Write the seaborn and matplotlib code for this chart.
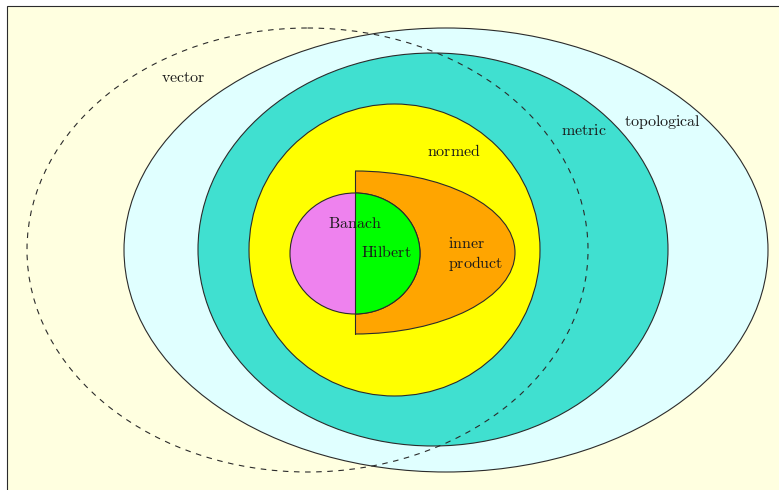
import numpy as np
import seaborn as sns
import matplotlib.pyplot as plt
from matplotlib.patches import Ellipse, Rectangle

# nested sets of spaces: name, center (x, y), half-width, half-height
space_names = ["topological", "metric", "normed", "inner product", "Banach", "Hilbert"]
space_cx = [446, 433, 394.5, 355, 355, 355]
space_cy = [250, 249.5, 250, 252.5, 253.5, 253.5]
space_rx = [322, 235, 145.5, 160, 65, 65]
space_ry = [222, 196.5, 146, 81.5, 60.5, 60.5]
space_colors = ["lightcyan", "turquoise", "yellow", "orange", "violet", "lime"]
half_right = [False, False, False, True, False, True]

# the dashed "vector" set
vector_center = (307.5, 250)
vector_size = (280.5, 222)

label_text = ["vector", "topological", "metric", "normed", "Banach", "Hilbert", "inner\nproduct"]
label_x = [183, 663, 584, 454, 355, 386, 448]
label_y = [77, 122, 130, 151, 223, 252, 254]
label_ha = ["center", "center", "center", "center", "center", "center", "left"]

sns.set_style("white")
plt.rcParams["mathtext.fontset"] = "cm"
plt.rcParams["font.family"] = ["DejaVu Serif"]

fig = plt.figure(figsize=(7.79, 4.90), dpi=100)
ax = fig.add_axes([0, 0, 1, 1])
ax.set_xlim(0, 779)
ax.set_ylim(490, 0)
ax.axis("off")

edge = "#2b2b2b"
lw = 0.8

frame = Rectangle((7, 6), 900, 600, facecolor="lightyellow", edgecolor=edge, lw=lw, zorder=0)
ax.add_patch(frame)

for i, name in enumerate(space_names):
    e = Ellipse((space_cx[i], space_cy[i]), 2 * space_rx[i], 2 * space_ry[i],
                facecolor=space_colors[i], edgecolor=edge, lw=lw, zorder=1 + i)
    ax.add_patch(e)
    if half_right[i]:
        clip = Rectangle((space_cx[i], space_cy[i] - space_ry[i] - 5), space_rx[i] + 5,
                         2 * space_ry[i] + 10, transform=ax.transData)
        e.set_clip_path(clip)
        ax.plot([space_cx[i], space_cx[i]], [space_cy[i] - space_ry[i], space_cy[i] + space_ry[i]],
                color=edge, lw=lw, zorder=1 + i)

vec = Ellipse(vector_center, 2 * vector_size[0], 2 * vector_size[1], facecolor="none",
              edgecolor=edge, lw=lw, ls=(0, (5, 5)), zorder=10)
ax.add_patch(vec)

for t, x, y, ha in zip(label_text, label_x, label_y, label_ha):
    lines = [r"$\mathrm{" + s + "}$" for s in t.split("\n")]
    ax.text(x, y, "\n".join(lines), ha=ha, va="center", fontsize=11.5,
            color="#1a1a1a", zorder=20, linespacing=1.2)

fig.savefig("out.png", dpi=100, facecolor="white")
